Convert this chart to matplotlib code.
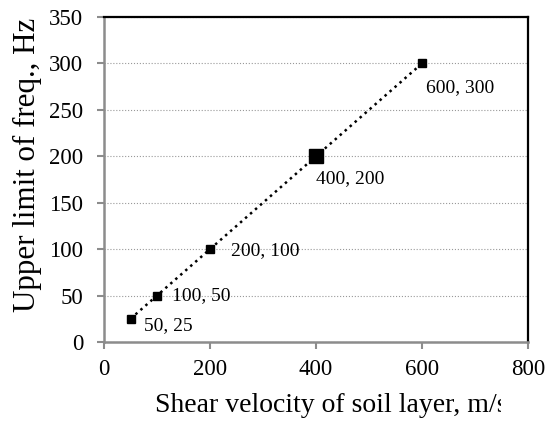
import numpy as np
import matplotlib
matplotlib.use('Agg')
import matplotlib.pyplot as plt
from matplotlib.patches import Rectangle

plt.rc('font', family='Liberation Serif')

# data
velocity = [50, 100, 200, 400, 600]
freq = [25, 50, 100, 200, 300]
point_labels = ['50, 25', '100, 50', '200, 100', '400, 200', '600, 300']
big_point = 400

xticks = [0, 200, 400, 600, 800]
yticks = [0, 50, 100, 150, 200, 250, 300, 350]

# label offsets in pixels (dx, dy), left aligned
offs = [(13, -7), (15, 0), (21, -1), (0, -22), (4, -24)]

dpi = 100
W, H = 556., 422.
fig = plt.figure(figsize=(W/dpi, H/dpi), dpi=dpi)
ax = fig.add_axes([104/W, 1-342/H, (528-104)/W, (342-17)/H])

ax.plot(velocity, freq, ':', color='k', lw=1.8, zorder=2)
ax.plot(velocity, freq, 's', color='k', ms=6, zorder=3, ls='none')
i = velocity.index(big_point)
ax.plot([velocity[i]], [freq[i]], 's', color='k', ms=9.5, zorder=3)

for x, y, lab, (dx, dy) in zip(velocity, freq, point_labels, offs):
	ax.annotate(lab, (x, y), xytext=(dx*72./dpi, dy*72./dpi), textcoords='offset points',
		ha='left', va='center', fontsize=14)

ax.set_xlim(0, 800)
ax.set_ylim(0, 350)
ax.set_xticks(xticks)
ax.set_yticks(yticks)
ax.yaxis.grid(True, ls=':', color='#999999', lw=0.8)
ax.set_axisbelow(True)

for s in ['top', 'right']:
	ax.spines[s].set_color('k')
	ax.spines[s].set_linewidth(1.6)
for s in ['left', 'bottom']:
	ax.spines[s].set_color('#8c8c8c')
	ax.spines[s].set_linewidth(1.8)

ax.tick_params(direction='out', length=5, width=1.5, color='#8c8c8c', labelsize=16.5)
ax.tick_params(axis='y', pad=10)
ax.tick_params(axis='x', pad=7)

ax.set_ylabel('Upper limit of freq., Hz', fontsize=22.3)
ax.yaxis.set_label_coords((27-104)/424., (342-164.5)/325.)
ax.yaxis.label.set_va('center')
ax.set_xlabel('Shear velocity of soil layer, m/s', fontsize=20)
ax.xaxis.set_label_coords((331-104)/424., -(406-342)/325.)
ax.xaxis.label.set_va('center')

# the source image cuts the end of the x label
fig.patches.append(Rectangle((501/W, 0), 1, (422-385)/H, transform=fig.transFigure,
	facecolor='white', edgecolor='none', zorder=10))

fig.savefig('out.png', dpi=dpi)
